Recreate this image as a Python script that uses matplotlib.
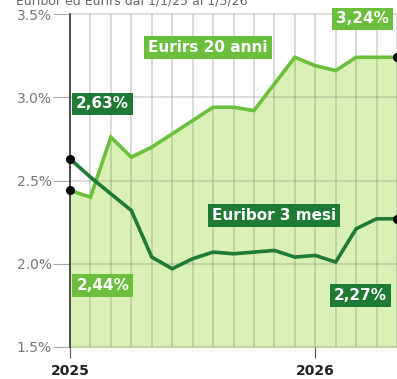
import numpy as np
import matplotlib.pyplot as plt

# Monthly values, January 2025 -> May 2026
months = list(range(17))
euribor_3m = [2.63, 2.52, 2.42, 2.32, 2.04, 1.97, 2.03, 2.07, 2.06, 2.07, 2.08, 2.04, 2.05, 2.01, 2.21, 2.27, 2.27]
eurirs_20y = [2.44, 2.40, 2.76, 2.64, 2.70, 2.78, 2.86, 2.94, 2.94, 2.92, 3.08, 3.24, 3.19, 3.16, 3.24, 3.24, 3.24]
year_ticks = [0, 12]
year_labels = ["2025", "2026"]
y_ticks = [1.5, 2.0, 2.5, 3.0, 3.5]
y_labels = ["1.5%", "2.0%", "2.5%", "3.0%", "3.5%"]

dark = "#1f7a35"
light = "#6cbf3c"
fill = "#daf1b6"

def pct(v):
    return f"{v:.2f}%".replace(".", ",")

fig = plt.figure(figsize=(3.97, 3.79), dpi=100)
ax = fig.add_axes([70 / 397, 1 - 347 / 379, 327 / 397, 333 / 379])
ax.set_xlim(0, 16)
ax.set_ylim(1.5, 3.5)

ax.fill_between(months, eurirs_20y, 1.5, color=fill, zorder=1)

# grid drawn semi-transparent so it looks darker over the fill
for m in months:
    ax.axvline(m, color="#6f7f5f", alpha=0.35, lw=1.1, zorder=2)
for v in y_ticks:
    ax.axhline(v, color="#7f8a70", alpha=0.35, lw=1.1, zorder=2, clip_on=False)

ax.plot(months, eurirs_20y, color=light, lw=2.6, zorder=3, solid_joinstyle="miter")
ax.plot(months, euribor_3m, color=dark, lw=2.6, zorder=4, solid_joinstyle="miter")
for s in (euribor_3m, eurirs_20y):
    ax.plot([months[0], months[-1]], [s[0], s[-1]], "o", color="black", ms=5.5, zorder=5, clip_on=False)

box_font = dict(fontsize=11, fontweight="bold", color="white")

def label(x, y, text, bg):
    ax.text(x, y, text, ha="center", va="center", zorder=6,
            bbox=dict(boxstyle="square,pad=0.25", fc=bg, ec="none"), **box_font)

label(1.6, 2.96, pct(euribor_3m[0]), dark)
label(1.6, 1.87, pct(eurirs_20y[0]), light)
label(14.3, 3.47, pct(eurirs_20y[-1]), light)
label(14.2, 1.81, pct(euribor_3m[-1]), dark)
label(6.75, 3.30, "Eurirs 20 anni", light)
label(10.0, 2.29, "Euribor 3 mesi", dark)

for side in ("top", "right", "bottom"):
    ax.spines[side].set_visible(False)
ax.spines["left"].set_color("#333333")
ax.spines["left"].set_linewidth(1.2)

ax.set_yticks(y_ticks)
ax.set_yticklabels(y_labels, color="#777777", fontsize=10)
ax.tick_params(axis="y", length=12, color="#aaaaaa", pad=1)
ax.set_xticks(year_ticks)
ax.set_xticklabels(year_labels, fontsize=10, fontweight="bold", color="#222222")
ax.tick_params(axis="x", length=8, color="#555555", pad=4)

# source line at the very top, partly cut by the frame
fig.text(0.04, 0.997, "Euribor ed Eurirs dal 1/1/25 al 1/5/26", fontsize=9, color="#666666", va="center")

fig.savefig("out.png", dpi=100)
